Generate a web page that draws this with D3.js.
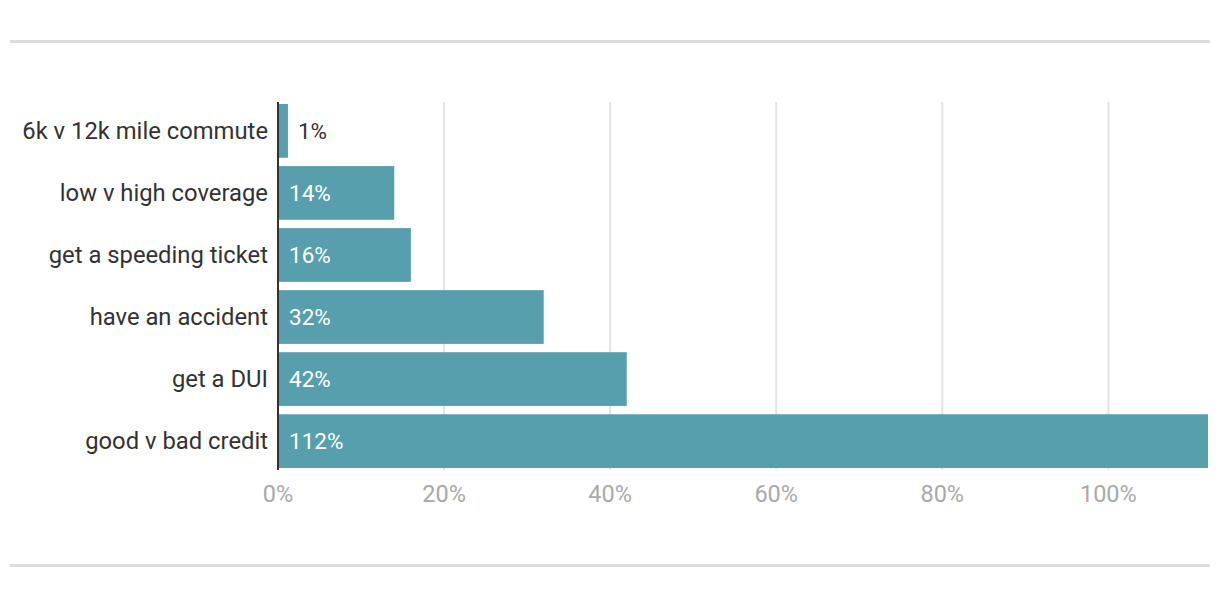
<!DOCTYPE html>
<html><head><meta charset="utf-8">
<script src="https://cdn.jsdelivr.net/npm/d3@7/dist/d3.min.js"></script>
<style>body{margin:0;background:#fff;font-family:Roboto,sans-serif}</style>
</head><body><svg id="c" width="1220" height="598"></svg>
<script>
const categories = ["6k v 12k mile commute","low v high coverage","get a speeding ticket","have an accident","get a DUI","good v bad credit"];
const values = [1.2,14,16,32,42,112];
const tickValues = [0,20,40,60,80,100];

const svg = d3.select("#c");
const x = d3.scaleLinear().domain([0,112]).range([278,1208]);
const y = d3.scaleBand().domain(categories).range([99.85,472.15]).paddingInner(0.134).paddingOuter(0.067);
const fmt = d => Math.round(d) + "%";

svg.append("rect").attr("x",10).attr("y",40).attr("width",1200).attr("height",3).attr("fill","#dddddd");
svg.append("rect").attr("x",10).attr("y",564).attr("width",1200).attr("height",3).attr("fill","#dddddd");

// gridlines
svg.append("g").selectAll("line").data(tickValues.filter(d=>d>0)).join("line")
  .attr("x1",d=>x(d)).attr("x2",d=>x(d)).attr("y1",102).attr("y2",470)
  .attr("stroke","#e4e4e4").attr("stroke-width",2);

// bars
svg.append("g").selectAll("rect").data(values).join("rect")
  .attr("x",x(0)).attr("y",(d,i)=>y(categories[i]))
  .attr("width",d=>x(d)-x(0)).attr("height",y.bandwidth())
  .attr("fill","#589fae");

// baseline
svg.append("line").attr("x1",x(0)).attr("x2",x(0)).attr("y1",102).attr("y2",470)
  .attr("stroke","#333").attr("stroke-width",2);

// category labels
svg.append("g").selectAll("text").data(categories).join("text")
  .attr("x",268).attr("y",d=>y(d)+y.bandwidth()/2).attr("dy","0.35em")
  .attr("text-anchor","end").attr("font-size",23.8).attr("fill","#333").text(d=>d);

// value labels
svg.append("g").selectAll("text").data(values).join("text")
  .attr("x",d=>{const w=x(d)-x(0); return w<40 ? x(d)+10 : x(0)+11;})
  .attr("y",(d,i)=>y(categories[i])+y.bandwidth()/2).attr("dy","0.35em")
  .attr("font-size",22.5).attr("fill",d=>(x(d)-x(0))<40?"#333":"#fff").text(fmt);

// x axis tick labels
svg.append("g").selectAll("text").data(tickValues).join("text")
  .attr("x",d=>x(d)).attr("y",494).attr("dy","0.35em").attr("text-anchor","middle")
  .attr("font-size",23.5).attr("fill","#aaaaaa").text(d=>d+"%");
</script></body></html>
